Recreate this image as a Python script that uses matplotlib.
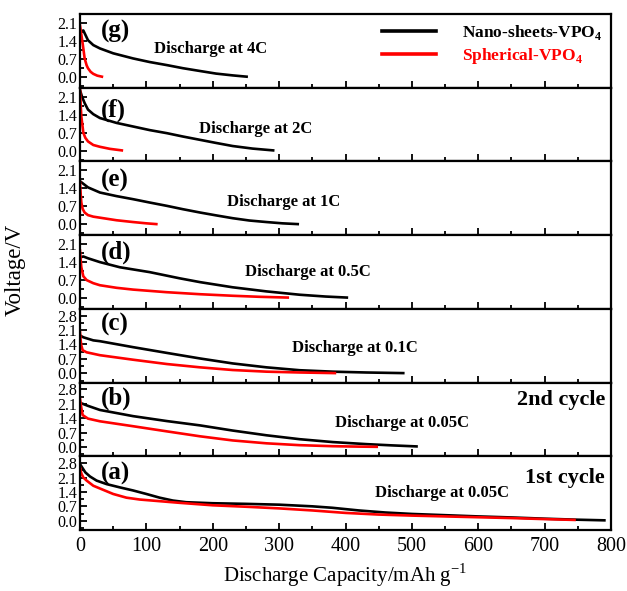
import matplotlib
matplotlib.use("Agg")
import matplotlib.pyplot as plt
from matplotlib.ticker import MultipleLocator, AutoMinorLocator, FormatStrFormatter

plt.rcParams['font.family'] = ['Liberation Serif', 'DejaVu Serif']
plt.rcParams['mathtext.fontset'] = 'custom'
plt.rcParams['mathtext.rm'] = 'Liberation Serif'
plt.rcParams['mathtext.bf'] = 'Liberation Serif:bold'

# ---------------- data (capacity mAh/g, voltage V) ----------------
# (g) 4C
cap_g_ns = [0, 5, 12, 20, 30, 50, 80, 105, 131, 155, 181, 205, 230, 251]
v_g_ns = [1.75, 1.81, 1.43, 1.24, 1.11, 0.92, 0.72, 0.58, 0.46, 0.34, 0.23, 0.13, 0.06, 0.01]
cap_g_sp = [0, 2, 4, 7, 10, 12, 16, 20, 26, 33]
v_g_sp = [2.0, 1.65, 1.3, 0.72, 0.45, 0.34, 0.2, 0.12, 0.05, 0.01]

# (f) 2C
cap_f_ns = [0, 3, 7, 12, 20, 30, 55, 80, 105, 131, 155, 181, 205, 230, 260, 291]
v_f_ns = [2.36, 2.1, 1.85, 1.6, 1.42, 1.27, 1.08, 0.94, 0.8, 0.68, 0.55, 0.42, 0.3, 0.18, 0.08, 0.01]
cap_f_sp = [0, 1, 2, 5, 8, 12, 20, 30, 45, 63]
v_f_sp = [2.4, 1.8, 1.33, 0.7, 0.5, 0.36, 0.22, 0.15, 0.07, 0.01]

# (e) 1C
cap_e_ns = [0, 5, 12, 30, 55, 80, 105, 131, 155, 181, 205, 230, 255, 281, 305, 328]
v_e_ns = [1.68, 1.58, 1.44, 1.24, 1.1, 0.98, 0.85, 0.72, 0.59, 0.46, 0.35, 0.24, 0.15, 0.09, 0.04, 0.01]
cap_e_sp = [0, 1, 2, 4, 7, 12, 20, 30, 55, 80, 100, 115]
v_e_sp = [1.64, 1.2, 0.85, 0.6, 0.46, 0.36, 0.3, 0.26, 0.16, 0.09, 0.04, 0.01]

# (d) 0.5C
cap_d_ns = [0, 5, 12, 30, 60, 105, 150, 181, 230, 281, 331, 370, 402]
v_d_ns = [1.58, 1.62, 1.55, 1.4, 1.2, 1.01, 0.77, 0.62, 0.42, 0.26, 0.13, 0.06, 0.02]
cap_d_sp = [0, 1, 2, 5, 10, 20, 30, 55, 80, 130, 181, 230, 270, 313]
v_d_sp = [1.85, 1.5, 1.2, 0.85, 0.7, 0.58, 0.5, 0.4, 0.33, 0.23, 0.15, 0.09, 0.05, 0.02]

# (c) 0.1C
cap_c_ns = [0, 5, 20, 30, 80, 131, 181, 230, 281, 331, 381, 431, 487]
v_c_ns = [1.84, 1.75, 1.6, 1.56, 1.27, 0.99, 0.72, 0.48, 0.29, 0.15, 0.08, 0.04, 0.01]
cap_c_sp = [0, 1, 2, 4, 10, 20, 30, 80, 131, 181, 230, 281, 331, 384]
v_c_sp = [2.0, 1.6, 1.35, 1.12, 1.02, 0.95, 0.88, 0.66, 0.45, 0.29, 0.16, 0.08, 0.04, 0.01]

# (b) 0.05C, 2nd cycle
cap_b_ns = [0, 4, 12, 30, 80, 131, 181, 230, 281, 331, 381, 432, 470, 507]
v_b_ns = [2.15, 2.1, 2.0, 1.8, 1.5, 1.26, 1.05, 0.8, 0.57, 0.38, 0.24, 0.14, 0.08, 0.03]
cap_b_sp = [0, 2, 4, 12, 30, 80, 131, 181, 230, 281, 331, 381, 420, 447]
v_b_sp = [2.35, 1.9, 1.55, 1.38, 1.25, 1.01, 0.76, 0.52, 0.32, 0.18, 0.09, 0.04, 0.02, 0.01]

# (a) 0.05C, 1st cycle
cap_a_ns = [0, 3, 8, 15, 25, 40, 60, 80, 100, 120, 140, 160, 200, 250, 300, 350, 380,
            420, 460, 500, 550, 600, 650, 700, 750, 790]
v_a_ns = [2.75, 2.6, 2.35, 2.15, 1.95, 1.78, 1.62, 1.47, 1.3, 1.12, 0.98, 0.9, 0.85, 0.82,
          0.78, 0.7, 0.63, 0.5, 0.4, 0.33, 0.27, 0.21, 0.16, 0.1, 0.05, 0.02]
cap_a_sp = [0, 2, 5, 10, 20, 35, 50, 70, 90, 120, 150, 200, 250, 300, 350, 400, 450, 500,
            550, 600, 650, 700, 745]
v_a_sp = [2.6, 2.3, 2.1, 1.95, 1.7, 1.5, 1.3, 1.12, 1.03, 0.95, 0.87, 0.75, 0.68, 0.6, 0.5,
          0.38, 0.3, 0.25, 0.21, 0.17, 0.13, 0.08, 0.04]

panel_letters = ['(g)', '(f)', '(e)', '(d)', '(c)', '(b)', '(a)']
rate_labels = ['Discharge at 4C', 'Discharge at 2C', 'Discharge at 1C', 'Discharge at 0.5C',
               'Discharge at 0.1C', 'Discharge at 0.05C', 'Discharge at 0.05C']
cycle_labels = {5: '2nd cycle', 6: '1st cycle'}
legend_labels = [r'Nano-sheets-VPO$_\mathbf{4}$', r'Spherical-VPO$_\mathbf{4}$']
x_ticks = [0, 100, 200, 300, 400, 500, 600, 700, 800]
y_ticks_small = [0.0, 0.7, 1.4, 2.1]
y_ticks_big = [0.0, 0.7, 1.4, 2.1, 2.8]

ns_series = [(cap_g_ns, v_g_ns), (cap_f_ns, v_f_ns), (cap_e_ns, v_e_ns), (cap_d_ns, v_d_ns),
             (cap_c_ns, v_c_ns), (cap_b_ns, v_b_ns), (cap_a_ns, v_a_ns)]
sp_series = [(cap_g_sp, v_g_sp), (cap_f_sp, v_f_sp), (cap_e_sp, v_e_sp), (cap_d_sp, v_d_sp),
             (cap_c_sp, v_c_sp), (cap_b_sp, v_b_sp), (cap_a_sp, v_a_sp)]

# ---------------- layout / style ----------------
fig = plt.figure(figsize=(6.27, 5.91), dpi=100)
gs = fig.add_gridspec(7, 1, left=0.1276, right=0.9745, top=0.9763, bottom=0.1032, hspace=0)
axes = [fig.add_subplot(gs[i, 0]) for i in range(7)]

ylims_small = (-0.42, 2.45)
ylims_big = (-0.45, 3.13)
label_y = [0.77, 0.69, 0.74, 0.77, 0.79, 0.79, 0.77]
# annotation anchor: (x in axes fraction, y in axes fraction)
rate_pos = [(0.246, 0.53), (0.331, 0.44), (0.384, 0.45), (0.429, 0.50),
            (0.518, 0.466), (0.606, 0.45), (0.682, 0.50)]
cycle_y = {5: 0.76, 6: 0.70}

for i, ax in enumerate(axes):
    ax.plot(ns_series[i][0], ns_series[i][1], color='black', lw=1.9, label=legend_labels[0])
    ax.plot(sp_series[i][0], sp_series[i][1], color='#ff0000', lw=1.9, label=legend_labels[1])
    ax.set_xlim(0, 800)
    if i < 4:
        ax.set_ylim(*ylims_small)
        ax.set_yticks(y_ticks_small)
    else:
        ax.set_ylim(*ylims_big)
        ax.set_yticks(y_ticks_big)
    ax.yaxis.set_minor_locator(AutoMinorLocator(2))
    ax.set_xticks(x_ticks)
    ax.xaxis.set_minor_locator(MultipleLocator(50))
    ax.tick_params(which='both', direction='in', top=False, right=False, width=1.3)
    ax.tick_params(which='major', length=5)
    ax.tick_params(which='minor', length=3)
    ax.tick_params(axis='y', labelsize=11.5, pad=2)
    ax.tick_params(axis='x', labelsize=14.5, pad=5)
    ax.yaxis.set_major_formatter(FormatStrFormatter('%.1f'))
    for s in ax.spines.values():
        s.set_linewidth(1.6)
    if i < 6:
        ax.tick_params(axis='x', labelbottom=False)
    ax.text(0.04, label_y[i], panel_letters[i], transform=ax.transAxes, fontsize=18,
            fontweight='bold', ha='left', va='center')
    ax.text(rate_pos[i][0], rate_pos[i][1], rate_labels[i],
            transform=ax.transAxes, fontsize=12, fontweight='bold',
            ha='center', va='center')
    if i in cycle_labels:
        ax.text(0.9885, cycle_y[i], cycle_labels[i], transform=ax.transAxes, fontsize=16,
                fontweight='bold', ha='right', va='center')

leg = axes[0].legend(loc='upper right', frameon=False, handlelength=3.1, handletextpad=1.5,
                     labelspacing=0.25, borderaxespad=0.1,
                     prop={'weight': 'bold', 'size': 12.5})
for line in leg.get_lines():
    line.set_linewidth(2.6)
leg.get_texts()[0].set_color('black')
leg.get_texts()[1].set_color('#ff0000')

axes[-1].set_xlabel(r'Discharge Capacity/mAh g$^{\mathrm{-1}}$', fontsize=15, labelpad=4)
fig.text(0.025, 0.543, 'Voltage/V', rotation=90, fontsize=16.5, ha='center', va='center')

fig.savefig('out.png', dpi=100)
